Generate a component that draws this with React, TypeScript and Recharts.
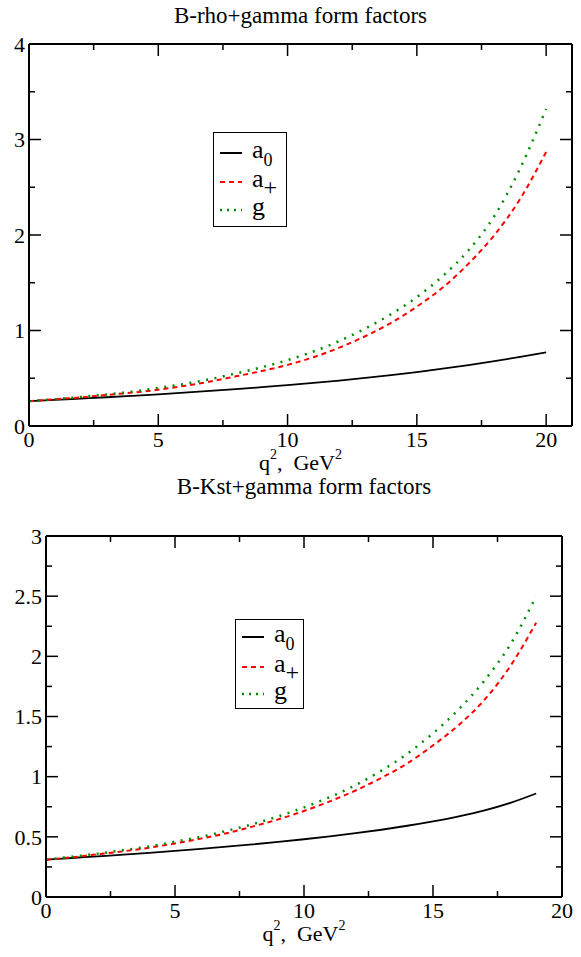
import React from 'react';
import { LineChart, Line, XAxis, YAxis, ReferenceLine } from 'recharts';

// B -> rho gamma form factors (q^2 in GeV^2)
const rhoQ2 = [0, 1, 2, 3, 4, 5, 6, 7, 8, 9, 10, 11, 12, 13, 14, 15, 16, 17, 18, 19, 20];
const rhoA0 = [
  0.26, 0.273, 0.287, 0.301, 0.316, 0.332, 0.349, 0.367, 0.386, 0.406, 0.428, 0.451, 0.476, 0.503, 0.532,
  0.565, 0.6, 0.638, 0.679, 0.723, 0.77,
];
const rhoAPlus = [
  0.26, 0.28, 0.3, 0.325, 0.35, 0.38, 0.42, 0.465, 0.52, 0.575, 0.64, 0.72, 0.82, 0.94, 1.08, 1.25, 1.45,
  1.7, 2.0, 2.38, 2.87,
];
const rhoG = [
  0.26, 0.28, 0.305, 0.33, 0.36, 0.4, 0.44, 0.49, 0.55, 0.615, 0.69, 0.78, 0.89, 1.02, 1.17, 1.35, 1.57,
  1.84, 2.2, 2.7, 3.32,
];

// B -> K* gamma form factors, lower panel
const kstQ2 = [0, 1, 2, 3, 4, 5, 6, 7, 8, 9, 10, 11, 12, 13, 14, 15, 16, 17, 18, 19];
const kstA0 = [
  0.31, 0.324, 0.338, 0.352, 0.367, 0.383, 0.4, 0.418, 0.437, 0.458, 0.48, 0.504, 0.53, 0.559, 0.592, 0.629,
  0.671, 0.72, 0.782, 0.86,
];
const kstAPlus = [
  0.31, 0.33, 0.355, 0.38, 0.41, 0.445, 0.485, 0.53, 0.585, 0.645, 0.715, 0.795, 0.885, 0.99, 1.11, 1.26,
  1.43, 1.64, 1.92, 2.28,
];
const kstG = [
  0.31, 0.335, 0.36, 0.39, 0.42, 0.46, 0.5, 0.55, 0.605, 0.67, 0.745, 0.83, 0.93, 1.05, 1.19, 1.36, 1.56,
  1.8, 2.1, 2.5,
];

const rhoXTicks = [0, 2.5, 5, 7.5, 10, 12.5, 15, 17.5, 20];
const rhoYTicks = [0, 0.5, 1, 1.5, 2, 2.5, 3, 3.5, 4];
const kstXTicks = [0, 2.5, 5, 7.5, 10, 12.5, 15, 17.5, 20];
const kstYTicks = [0, 0.25, 0.5, 0.75, 1, 1.25, 1.5, 1.75, 2, 2.25, 2.5, 2.75, 3];

const SERIF = "'Liberation Serif', Tinos, 'Times New Roman', Times, serif";
const GREEN = '#008b00';

function rows(q: number[], a0: number[], ap: number[], g: number[]) {
  return q.map((v, i) => ({ q: v, a0: a0[i], ap: ap[i], g: g[i] }));
}

// ticks point inward and are mirrored on the top edge
function makeXTick(top: number, isMajor: (v: number) => boolean) {
  return (props: any) => {
    const { x, y, payload } = props;
    const v = payload.value;
    const major = isMajor(v);
    const len = major ? 12 : 6;
    return (
      <g>
        <line x1={x} x2={x} y1={y} y2={y - len} stroke="#000" strokeWidth={1.5} />
        <line x1={x} x2={x} y1={top} y2={top + len} stroke="#000" strokeWidth={1.5} />
        {major && (
          <text x={x} y={y + 21} textAnchor="middle" style={{ fontFamily: SERIF }} fontSize={22} fill="#000">
            {v}
          </text>
        )}
      </g>
    );
  };
}

// same for y, mirrored on the right edge
function makeYTick(right: number, isMajor: (v: number) => boolean) {
  return (props: any) => {
    const { x, y, payload } = props;
    const v = payload.value;
    const major = isMajor(v);
    const len = major ? 12 : 6;
    return (
      <g>
        <line x1={x} x2={x + len} y1={y} y2={y} stroke="#000" strokeWidth={1.5} />
        <line x1={right} x2={right - len} y1={y} y2={y} stroke="#000" strokeWidth={1.5} />
        {major && (
          <text
            x={x - 4}
            y={y}
            dy="0.35em"
            textAnchor="end"
            style={{ fontFamily: SERIF }}
            fontSize={22}
            fill="#000"
          >
            {v}
          </text>
        )}
      </g>
    );
  };
}

function AxisTitle(props: any) {
  const { viewBox } = props;
  const cx = viewBox.x + viewBox.width / 2;
  const cy = viewBox.y + 44;
  return (
    <text x={cx} y={cy} textAnchor="middle" style={{ fontFamily: SERIF }} fontSize={22} fill="#000">
      q<tspan fontSize={14} dy={-11}>2</tspan>
      <tspan dy={11}>,{'\u00a0\u00a0'}GeV</tspan>
      <tspan fontSize={14} dy={-11}>2</tspan>
    </text>
  );
}

function LegendBox({ left, top, width, height, rowY }: any) {
  const items = [
    { key: 'a0', color: '#000', dash: undefined, w: 2, name: 'a', sub: '0', subSize: 18 },
    { key: 'ap', color: '#ff0000', dash: '5 4', w: 2, name: 'a', sub: '+', subSize: 24 },
    { key: 'g', color: GREEN, dash: '2 5', w: 2.5, name: 'g', sub: '', subSize: 18 },
  ];
  return (
    <div
      style={{
        position: 'absolute',
        left,
        top,
        width,
        height,
        border: '1px solid #000',
        background: '#fff',
        boxSizing: 'border-box',
      }}
    >
      <svg width={width - 2} height={height - 2} style={{ display: 'block' }}>
        {items.map((it, i) => (
          <g key={it.key}>
            <line
              x1={6}
              x2={28}
              y1={rowY[i]}
              y2={rowY[i]}
              stroke={it.color}
              strokeWidth={it.w}
              strokeDasharray={it.dash}
            />
            <text x={38} y={rowY[i] + 5} style={{ fontFamily: SERIF }} fontSize={26} fill="#000">
              {it.name}
              {it.sub && (
                <tspan fontSize={it.subSize} dy={8}>
                  {it.sub}
                </tspan>
              )}
            </text>
          </g>
        ))}
      </svg>
    </div>
  );
}

function FormFactorPanel({
  data,
  xMax,
  yMax,
  xTicks,
  yTicks,
  width,
  height,
  margin,
  yAxisWidth,
  xMajor,
  yMajor,
}: any) {
  const plotRight = width - margin.right;
  const plotTop = margin.top;
  return (
    <LineChart width={width} height={height} data={data} margin={margin}>
      <XAxis
        dataKey="q"
        type="number"
        domain={[0, xMax]}
        ticks={xTicks}
        interval={0}
        tickSize={0}
        tickMargin={0}
        tickLine={false}
        axisLine={{ stroke: '#000', strokeWidth: 2 }}
        tick={makeXTick(plotTop, xMajor)}
        height={50}
        label={<AxisTitle />}
        allowDataOverflow
      />
      <YAxis
        type="number"
        domain={[0, yMax]}
        ticks={yTicks}
        interval={0}
        tickSize={0}
        tickMargin={0}
        tickLine={false}
        axisLine={{ stroke: '#000', strokeWidth: 2 }}
        tick={makeYTick(plotRight, yMajor)}
        width={yAxisWidth}
        allowDataOverflow
      />
      <ReferenceLine x={xMax} stroke="#000" strokeWidth={2} />
      <ReferenceLine y={yMax} stroke="#000" strokeWidth={2} />
      <Line type="monotone" dataKey="a0" stroke="#000" strokeWidth={1.8} dot={false} isAnimationActive={false} />
      <Line
        type="monotone"
        dataKey="ap"
        stroke="#ff0000"
        strokeWidth={2}
        strokeDasharray="5 4"
        dot={false}
        isAnimationActive={false}
      />
      <Line
        type="monotone"
        dataKey="g"
        stroke={GREEN}
        strokeWidth={2.5}
        strokeDasharray="2 6.5"
        dot={false}
        isAnimationActive={false}
      />
    </LineChart>
  );
}

const titleStyle: React.CSSProperties = {
  position: 'absolute',
  fontFamily: SERIF,
  fontSize: 23,
  lineHeight: '26px',
  color: '#000',
  textAlign: 'center',
  whiteSpace: 'nowrap',
};

export default function App() {
  const rhoData = rows(rhoQ2, rhoA0, rhoAPlus, rhoG);
  const kstData = rows(kstQ2, kstA0, kstAPlus, kstG);
  return (
    <div style={{ position: 'absolute', left: 0, top: 0, width: 581, height: 957, background: '#fff' }}>
      <div style={{ ...titleStyle, left: 29, width: 543, top: 3 }}>B-rho+gamma form factors</div>
      <div style={{ position: 'absolute', left: 0, top: 0 }}>
        <FormFactorPanel
          data={rhoData}
          xMax={21}
          yMax={4}
          xTicks={rhoXTicks}
          yTicks={rhoYTicks}
          width={581}
          height={480}
          margin={{ top: 44, right: 9, bottom: 4, left: 4 }}
          yAxisWidth={25}
          xMajor={(v: number) => v % 5 === 0}
          yMajor={(v: number) => v % 1 === 0}
        />
      </div>
      <LegendBox left={213} top={132} width={74} height={95} rowY={[20, 49, 77]} />

      <div style={{ ...titleStyle, left: 46, width: 516, top: 474 }}>B-Kst+gamma form factors</div>
      <div style={{ position: 'absolute', left: 0, top: 470 }}>
        <FormFactorPanel
          data={kstData}
          xMax={20}
          yMax={3}
          xTicks={kstXTicks}
          yTicks={kstYTicks}
          width={581}
          height={487}
          margin={{ top: 66, right: 19, bottom: 10, left: 6 }}
          yAxisWidth={40}
          xMajor={(v: number) => v % 5 === 0}
          yMajor={(v: number) => v % 0.5 === 0}
        />
      </div>
      <LegendBox left={235} top={619} width={69} height={90} rowY={[17, 47, 74]} />
    </div>
  );
}
